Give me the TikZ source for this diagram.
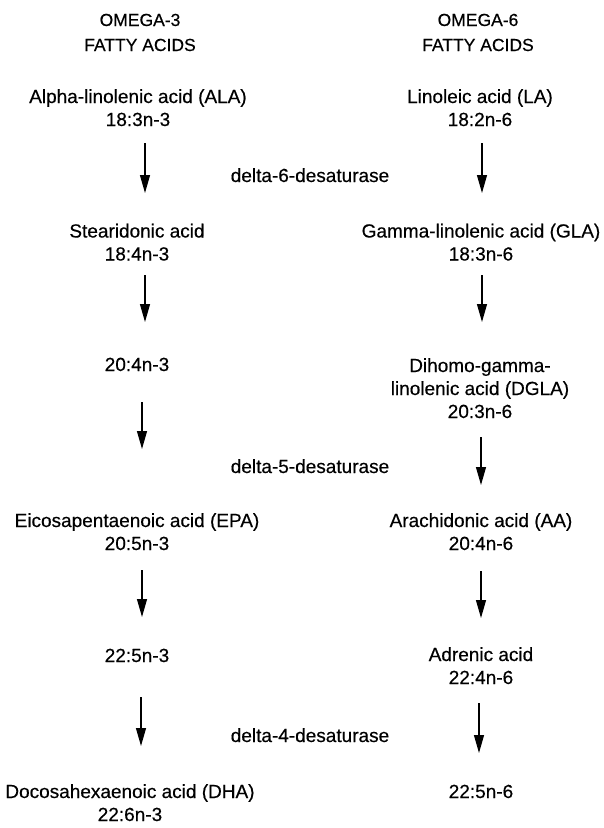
\documentclass[tikz,border=0pt]{standalone}
\usepackage{fontspec}
\setmainfont{Liberation Sans}[FakeBold=0.4]
\usetikzlibrary{arrows.meta}
\newcommand\lst{\rule[-5pt]{0pt}{20pt}}
\newcommand\hst{\rule[-4pt]{0pt}{17pt}}
\tikzset{
  acid/.style={align=center,inner sep=0pt,font=\fontsize{19}{23}\selectfont},
  head/.style={align=center,inner sep=0pt,font=\fontsize{17.5}{25}\selectfont},
  enz/.style={inner sep=0pt,font=\fontsize{19}{23}\selectfont},
  conv/.style={line width=1.2pt,-{Triangle[length=18pt,width=10pt]}}
}
\begin{document}
\begin{tikzpicture}[x=1pt,y=-1pt]
\useasboundingbox[fill=white] (0,0) rectangle (604,828);
% headers
\node[head] (h3) at (140,34) {\hst OMEGA-3\\\hst FATTY ACIDS};
\node[head] (h6) at (478,34) {\hst OMEGA-6\\\hst FATTY ACIDS};
% omega-3 column
\node[acid] (ala) at (138,109.5) {\lst Alpha-linolenic acid (ALA)\\\lst 18:3n-3};
\node[acid] (sda) at (137,244) {\lst Stearidonic acid\\\lst 18:4n-3};
\node[acid] (eta) at (137,366) {\lst 20:4n-3};
\node[acid] (epa) at (137,533.5) {\lst Eicosapentaenoic acid (EPA)\\\lst 20:5n-3};
\node[acid] (dpa) at (137,657) {\lst 22:5n-3};
\node[acid] (dha) at (130,804.5) {\lst Docosahexaenoic acid (DHA)\\\lst 22:6n-3};
% omega-6 column
\node[acid] (la) at (480,109.5) {\lst Linoleic acid (LA)\\\lst 18:2n-6};
\node[acid] (gla) at (481,244) {\lst Gamma-linolenic acid (GLA)\\\lst 18:3n-6};
\node[acid] (dgla) at (480,390) {\lst Dihomo-gamma-\\\lst linolenic acid (DGLA)\\\lst 20:3n-6};
\node[acid] (aa) at (481,533.5) {\lst Arachidonic acid (AA)\\\lst 20:4n-6};
\node[acid] (adr) at (481,667.5) {\lst Adrenic acid\\\lst 22:4n-6};
\node[acid] (dpa6) at (481,793) {\lst 22:5n-6};
% enzymes
\node[enz] (d6) at (310,177) {\lst delta-6-desaturase};
\node[enz] (d5) at (310,468) {\lst delta-5-desaturase};
\node[enz] (d4) at (310,737) {\lst delta-4-desaturase};
% arrow end points
\coordinate (l1a) at (145,143); \coordinate (l1b) at (145,193);
\coordinate (l2a) at (145,275); \coordinate (l2b) at (145,322);
\coordinate (l3a) at (142,402); \coordinate (l3b) at (142,449);
\coordinate (l4a) at (142,570); \coordinate (l4b) at (142,617);
\coordinate (l5a) at (141,697); \coordinate (l5b) at (141,746);
\coordinate (r1a) at (482,143); \coordinate (r1b) at (482,193);
\coordinate (r2a) at (482,275); \coordinate (r2b) at (482,322);
\coordinate (r3a) at (481,437); \coordinate (r3b) at (481,485);
\coordinate (r4a) at (481,571); \coordinate (r4b) at (481,618);
\coordinate (r5a) at (479,703); \coordinate (r5b) at (479,753);
\draw[conv] (l1a) -- (l1b);
\draw[conv] (l2a) -- (l2b);
\draw[conv] (l3a) -- (l3b);
\draw[conv] (l4a) -- (l4b);
\draw[conv] (l5a) -- (l5b);
\draw[conv] (r1a) -- (r1b);
\draw[conv] (r2a) -- (r2b);
\draw[conv] (r3a) -- (r3b);
\draw[conv] (r4a) -- (r4b);
\draw[conv] (r5a) -- (r5b);
\end{tikzpicture}
\end{document}
